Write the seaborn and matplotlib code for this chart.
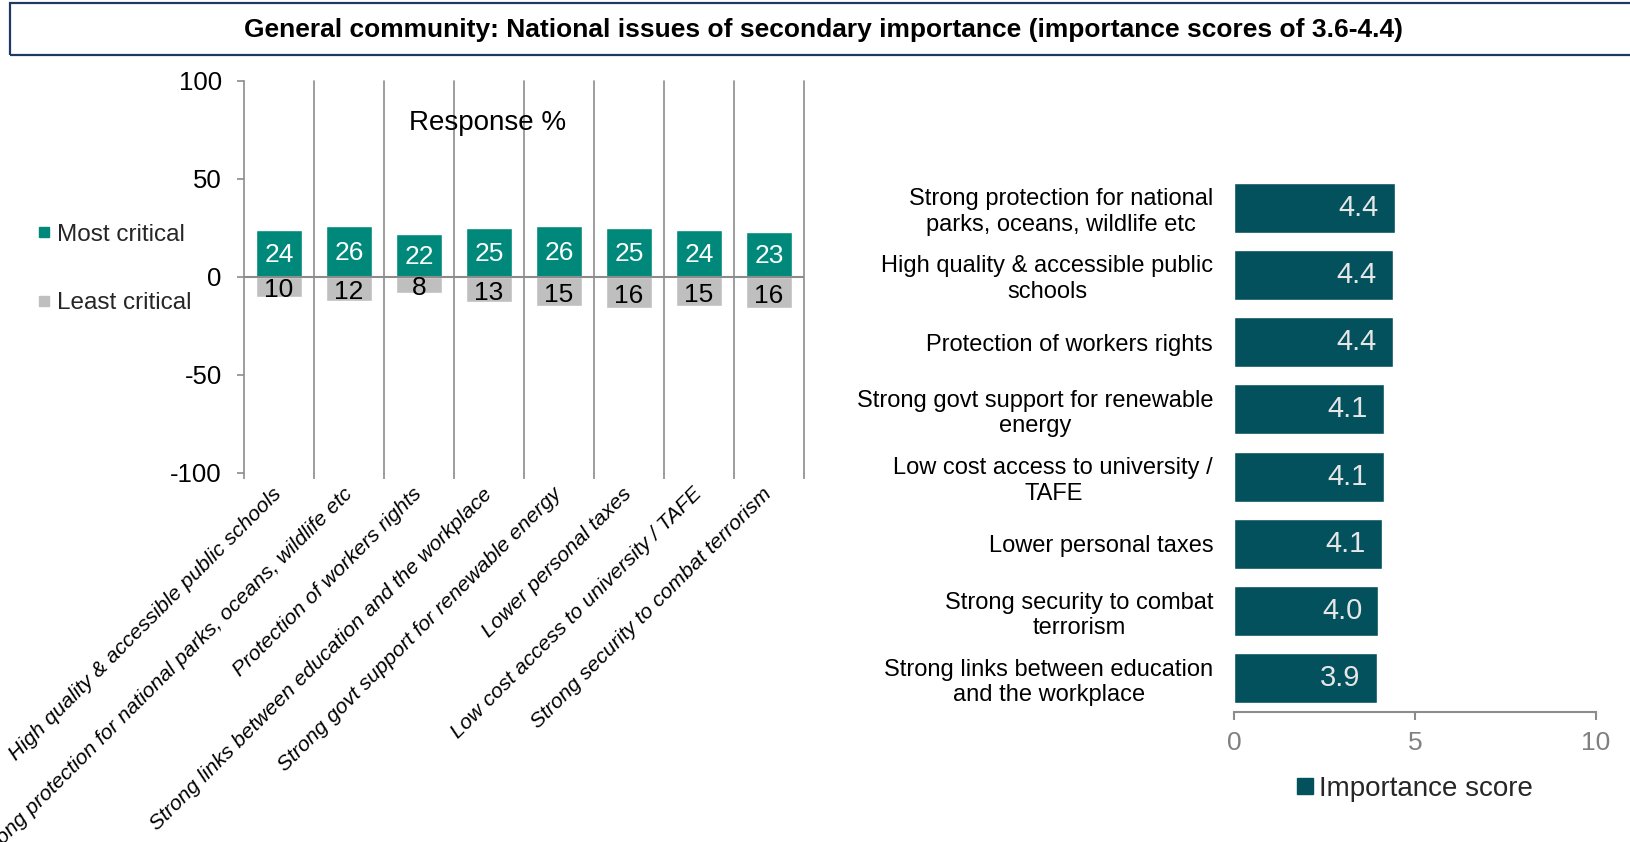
import matplotlib
matplotlib.use("Agg")
import matplotlib.pyplot as plt
import seaborn as sns
import pandas as pd
import numpy as np
from matplotlib.patches import Rectangle
from matplotlib.lines import Line2D

sns.set_theme(style="white")
plt.rcParams['font.family'] = ['Liberation Sans', 'DejaVu Sans']

# ---- data ----
title = "General community: National issues of secondary importance (importance scores of 3.6-4.4)"
left_categories = [
    "High quality & accessible public schools",
    "Strong protection for national parks, oceans, wildlife etc",
    "Protection of workers rights",
    "Strong links between education and the workplace",
    "Strong govt support for renewable energy",
    "Lower personal taxes",
    "Low cost access to university / TAFE",
    "Strong security to combat terrorism",
]
most_critical = [24, 26, 22, 25, 26, 25, 24, 23]
least_critical = [10, 12, 8, 13, 15, 16, 15, 16]
left_yticks = [-100, -50, 0, 50, 100]

right_categories = [
    "Strong protection for national\nparks, oceans, wildlife etc",
    "High quality & accessible public\nschools",
    "Protection of workers rights",
    "Strong govt support for renewable\nenergy",
    "Low cost access to university /\nTAFE",
    "Lower personal taxes",
    "Strong security to combat\nterrorism",
    "Strong links between education\nand the workplace",
]
importance = [4.44, 4.40, 4.38, 4.14, 4.13, 4.08, 3.99, 3.94]
right_xticks = [0, 5, 10]

GREEN = "#00897B"
GREY = "#BFBFBF"
DARK = "#02515C"
AXGREY = "#8C8C8C"

W, H = 1630, 842
fig = plt.figure(figsize=(W / 100, H / 100), dpi=100)

# ---- title box ----
fig.patches.append(Rectangle((10 / W, 1 - 55 / H), 1.0, 52 / H, transform=fig.transFigure,
                             fill=False, edgecolor="#1F3864", linewidth=1.6, clip_on=False))
fig.text(823 / W, 1 - 30 / H, title, ha="center", va="center", fontsize=19,
         fontweight="bold", color="black")

# ---- left chart ----
axL = fig.add_axes([244 / W, 1 - 473 / H, (804 - 244) / W, (473 - 81) / H])
dfL = pd.DataFrame({"cat": left_categories, "most": most_critical,
                    "least": [-v for v in least_critical]})
sns.barplot(data=dfL, x="cat", y="most", color=GREEN, width=0.65, ax=axL,
            saturation=1, order=left_categories)
sns.barplot(data=dfL, x="cat", y="least", color=GREY, width=0.65, ax=axL,
            saturation=1, order=left_categories)
axL.set_ylim(-100, 100)
axL.set_xlim(-0.5, len(left_categories) - 0.5)
axL.set_yticks(left_yticks)
axL.set_yticklabels([str(v) for v in left_yticks], fontsize=18.5, color="black")
axL.set_xlabel("")
axL.set_ylabel("")
for s in ["top", "right", "bottom"]:
    axL.spines[s].set_visible(False)
axL.spines["left"].set_color(AXGREY)
axL.spines["left"].set_linewidth(1.2)
axL.tick_params(axis="y", which="major", left=True, direction="out", length=5,
                color=AXGREY, width=1.2, pad=11)
axL.axhline(0, color=AXGREY, linewidth=1.5, zorder=3)
bounds = np.arange(0.5, len(left_categories), 1.0)
for b in bounds:
    axL.axvline(b, color=AXGREY, linewidth=1.2, zorder=0, clip_on=False)
axL.set_xticks(np.arange(len(left_categories)))
axL.set_xticklabels(left_categories, rotation=45, ha="right", va="center",
                    rotation_mode="anchor", fontsize=15.3, fontstyle="italic", color="black")
axL.tick_params(axis="x", which="major", length=0, pad=13)
axL.set_xticks(np.concatenate([[-0.5], bounds]), minor=True)
axL.tick_params(axis="x", which="minor", direction="out", length=4, color=AXGREY, width=1.2,
                bottom=True)
for i, (m, l) in enumerate(zip(most_critical, least_critical)):
    axL.text(i, m / 2 - 1, str(m), ha="center", va="center", color="white", fontsize=19, zorder=5)
    axL.text(i, -l / 2 - 1.5, str(l), ha="center", va="center", color="black", fontsize=19, zorder=5)
axL.text(0.435, 0.894, "Response %", transform=axL.transAxes, ha="center", va="center",
         fontsize=20, color="black")

handlesL = [Line2D([], [], marker="s", linestyle="none", markersize=7, color=GREEN),
            Line2D([], [], marker="s", linestyle="none", markersize=7, color=GREY)]
fig.legend(handlesL, ["Most critical", "Least critical"], loc="center left",
           bbox_to_anchor=(25 / W, 1 - 269 / H), frameon=False, fontsize=17.5,
           handletextpad=0.1, labelspacing=1.9, borderaxespad=0, handlelength=0.8)

# ---- right chart ----
axR = fig.add_axes([1234 / W, 1 - 712 / H, (1596 - 1234) / W, (712 - 174) / H])
dfR = pd.DataFrame({"cat": right_categories, "score": importance})
sns.barplot(data=dfR, y="cat", x="score", color=DARK, width=0.74, ax=axR, saturation=1,
            orient="h", order=right_categories)
axR.set_xlim(0, 10)
axR.set_xticks(right_xticks)
axR.set_xticklabels([str(v) for v in right_xticks], fontsize=19, color="#808080")
axR.set_xlabel("")
axR.set_ylabel("")
for s in ["top", "right", "left"]:
    axR.spines[s].set_visible(False)
axR.spines["bottom"].set_color(AXGREY)
axR.spines["bottom"].set_linewidth(1.5)
axR.tick_params(axis="x", bottom=True, direction="out", length=6, color=AXGREY, width=1.5, pad=8)
axR.tick_params(axis="y", length=0, pad=15)
for lab in axR.get_yticklabels():
    lab.set_fontsize(17)
    lab.set_multialignment("center")
    lab.set_color("black")
for i, v in enumerate(importance):
    axR.text(v - 0.45, i, f"{v:.1f}", ha="right", va="center", color="#E6E6E6", fontsize=21)

handlesR = [Line2D([], [], marker="s", linestyle="none", markersize=11, color=DARK)]
fig.legend(handlesR, ["Importance score"], loc="center left",
           bbox_to_anchor=(1283 / W, 1 - 789 / H), frameon=False, fontsize=20,
           handletextpad=0.1, borderaxespad=0, handlelength=0.8)

fig.savefig("out.png", dpi=100, facecolor="white")
